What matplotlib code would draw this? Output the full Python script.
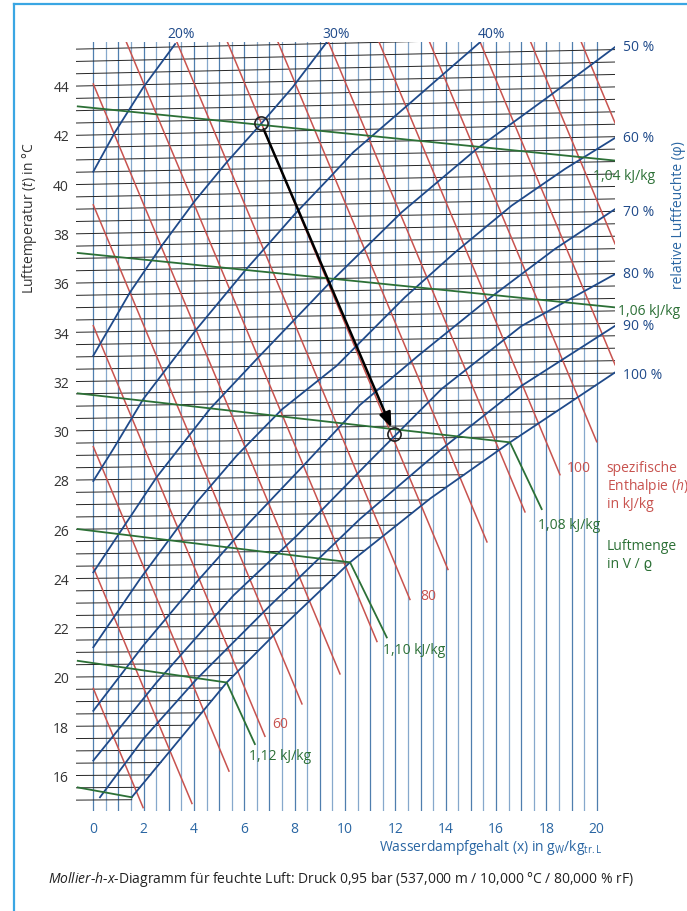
import numpy as np
import matplotlib
matplotlib.use("Agg")
import matplotlib.pyplot as plt
from matplotlib.lines import Line2D

plt.rcParams['font.family'] = ['Open Sans', 'DejaVu Sans']
plt.rcParams['mathtext.fontset'] = 'custom'
plt.rcParams['mathtext.rm'] = 'Open Sans'
plt.rcParams['mathtext.it'] = 'Open Sans:italic'

# ---------------- data (x in g/kg, t in degC on the diagram scale) ----------------
x_ticks = [0, 2, 4, 6, 8, 10, 12, 14, 16, 18, 20]
t_ticks = [16, 18, 20, 22, 24, 26, 28, 30, 32, 34, 36, 38, 40, 42, 44]
x_grid = np.arange(0, 20.01, 0.5)          # vertical lines of water content
isotherm_t = np.arange(15.0, 46.01, 0.5)    # isotherms every 0.5 degC
isotherm_skew = 0.0005                      # rise of an isotherm per g/kg and degC

# relative humidity curves
phi20_x = [0, 0.86, 1.99, 3.25]
phi20_t = [40.51, 42.11, 43.94, 45.69]
phi30_x = [0, 1.458, 2.718, 4.04, 5.30, 6.62, 7.93, 9.27]
phi30_t = [33.04, 35.61, 37.50, 39.33, 40.89, 42.40, 43.95, 45.76]
phi40_x = [0, 0.795, 1.987, 4.107, 6.026, 8.01, 9.40, 10.33, 12.31, 15.36]
phi40_t = [27.95, 29.25, 31.28, 34.12, 36.49, 38.79, 40.28, 41.30, 43.05, 45.76]
phi50_x = [0, 2.519, 4.637, 6.556, 9.404, 12.25, 15.23, 18.145, 20.73]
phi50_t = [24.24, 28.11, 30.88, 32.97, 36.01, 38.86, 41.43, 43.60, 45.57]
phi60_x = [0, 1.855, 4.108, 5.697, 7.485, 9.670, 12.38, 14.37, 16.62, 18.74, 20.73]
phi60_t = [21.20, 23.97, 27.09, 28.98, 30.85, 32.63, 35.41, 37.23, 39.13, 40.62, 41.88]
phi70_x = [0, 1.987, 4.108, 6.226, 8.344, 10.596, 12.91, 15.70, 18.34, 20.73]
phi70_t = [18.62, 21.27, 23.85, 26.29, 28.57, 31.04, 33.04, 35.34, 37.37, 38.99]
phi80_x = [0, 2.519, 5.563, 8.082, 11.06, 13.84, 17.02, 20.73]
phi80_t = [16.60, 19.78, 23.30, 25.73, 28.84, 31.69, 34.25, 36.35]
phi90_x = [0.266, 1.987, 4.108, 7.020, 10.596, 13.84, 17.02, 20.73]
phi90_t = [15.11, 17.48, 19.91, 22.89, 26.41, 29.25, 31.82, 34.25]
phi100_x = [1.526, 5.30, 7.286, 10.20, 13.40, 16.555, 20.73]
phi100_t = [15.11, 19.77, 21.81, 24.65, 27.25, 29.52, 32.36]

# specific enthalpy lines (kJ/kg) and where they end at the bottom (g/kg)
enthalpy_h = [45, 50, 55, 60, 65, 70, 75, 80, 85, 90, 95, 100, 105, 110, 115, 120]
enthalpy_end_x = [1.98, 3.92, 5.39, 6.82, 8.29, 9.80, 11.27, 12.58, 14.09,
                  15.64, 17.15, 18.54, 20.0, 20.73, 20.73, 20.73]
enthalpy_t0_at_45 = 19.53     # diagram value at x = 0 for h = 45 kJ/kg
enthalpy_t_per_kj = 0.9816    # diagram degC per kJ/kg
enthalpy_slope = 2.444        # diagram degC per g/kg along an enthalpy line

# air volume lines (green)
vol_labels = ['1,04 kJ/kg', '1,06 kJ/kg', '1,08 kJ/kg', '1,10 kJ/kg', '1,12 kJ/kg', '']
vol_start_t = [43.16, 37.21, 31.51, 26.00, 20.65, 15.51]
vol_corner_x = [20.73, 20.73, 16.555, 10.20, 5.30, 1.526]
vol_corner_t = [40.96, 35.00, 29.52, 24.65, 19.77, 15.11]
vol_tail_x = [None, None, 17.815, 11.66, 6.42, None]
vol_tail_t = [None, None, 26.81, 21.60, 17.27, None]

# process (state 1 -> state 2)
state_x = [6.66, 11.95]
state_t = [42.49, 29.86]

# ---------------- drawing ----------------
W, H = 687, 912
fig = plt.figure(figsize=(W / 100, H / 100), dpi=100)
fig.patch.set_facecolor('white')

x_left, x_right = -0.687, 20.727
t_bottom, t_top = 14.553, 45.774
ax = fig.add_axes([76 / W, 100 / H, (615 - 76) / W, (812 - 43) / H])
ax.set_xlim(x_left, x_right)
ax.set_ylim(t_bottom, t_top)
for s in ax.spines.values():
    s.set_visible(False)

C_VERT = '#4f7eae'
C_VERT2 = '#86a8cc'
C_ISO = '#262626'
C_PHI = '#1f4a8a'
C_RED = '#c8534f'
C_GREEN = '#2c7036'
C_BLUE_TXT = '#2a66a3'

# vertical grid
for i, xv in enumerate(x_grid):
    ax.plot([xv, xv], [t_bottom, t_top], color=C_VERT if i % 2 == 0 else C_VERT2,
            lw=0.9, zorder=1)

for t in isotherm_t:
    xx = np.linspace(x_left, x_right, 800)
    yy = t * (1 + isotherm_skew * xx)
    ysat = np.interp(xx, phi100_x, phi100_t)
    ok = (xx < phi100_x[0]) | (yy >= ysat)
    if not ok.all():
        idx = np.argmax(~ok & (xx >= phi100_x[0]))
        xend = xx[idx]
    else:
        xend = x_right
    if t * (1 + isotherm_skew * phi100_x[0]) < phi100_t[0]:
        xend = phi100_x[0]
    x2 = np.linspace(x_left, xend, 50)
    ax.plot(x2, t * (1 + isotherm_skew * x2), color=C_ISO, lw=0.7, zorder=2)

# enthalpy lines
for h, xe in zip(enthalpy_h, enthalpy_end_x):
    t0 = enthalpy_t0_at_45 + (h - 45) * enthalpy_t_per_kj
    xs = max(0.0, (t0 - t_top) / enthalpy_slope)
    ax.plot([xs, xe], [t0 - enthalpy_slope * xs, t0 - enthalpy_slope * xe],
            color=C_RED, lw=1.1, zorder=3)

# relative humidity curves
for px_, pt_ in [(phi20_x, phi20_t), (phi30_x, phi30_t), (phi40_x, phi40_t),
                 (phi50_x, phi50_t), (phi60_x, phi60_t), (phi70_x, phi70_t),
                 (phi80_x, phi80_t), (phi90_x, phi90_t), (phi100_x, phi100_t)]:
    ax.plot(px_, pt_, color=C_PHI, lw=1.3, zorder=4)

# air volume lines
for t0, xc, tc, xt, tt in zip(vol_start_t, vol_corner_x, vol_corner_t, vol_tail_x, vol_tail_t):
    xs = [x_left + 0.07, xc]
    ys = [t0, tc]
    if xt is not None:
        xs.append(xt)
        ys.append(tt)
    ax.plot(xs, ys, color=C_GREEN, lw=1.3, zorder=5)

# process arrow
ax.annotate('', xy=(state_x[1], state_t[1]), xytext=(state_x[0], state_t[0]),
            arrowprops=dict(arrowstyle='-|>,head_length=0.9,head_width=0.35',
                            color='black', lw=1.8, shrinkA=5, shrinkB=5),
            zorder=7)
ax.plot(state_x, state_t, 'o', mfc='none', mec='#222222', ms=9.5, mew=1.2, zorder=8)

# ticks
ax.set_xticks(x_ticks)
ax.set_xticklabels([str(v) for v in x_ticks], color=C_BLUE_TXT, fontsize=10)
ax.set_yticks(t_ticks)
ax.set_yticklabels([str(v) for v in t_ticks], color='#333333', fontsize=10)
ax.tick_params(axis='x', length=0, pad=7)
ax.tick_params(axis='y', length=0, pad=5)


def fx(p):
    return p / W


def fy(p):
    return 1 - p / H


# labels
fig.text(fx(30), fy(218), 'Lufttemperatur ($\\it{t}$) in °C', rotation=90,
         ha='center', va='center', fontsize=10, color='#333333')
fig.text(fx(679), fy(215), 'relative Luftfeuchte (φ)', rotation=90,
         ha='center', va='center', fontsize=10, color=C_BLUE_TXT)
fig.text(fx(491), fy(848), 'Wasserdampfgehalt (x) in g$_{\\mathrm{W}}$/kg$_{\\mathrm{tr.L}}$',
         ha='center', va='center', fontsize=10, color=C_BLUE_TXT)
fig.text(fx(48), fy(880), '$\\it{Mollier}$-$\\it{h}$-$\\it{x}$-Diagramm für feuchte Luft: '
         'Druck 0,95 bar (537,000 m / 10,000 °C / 80,000 % rF)',
         ha='left', va='center', fontsize=10, color='#222222')

for lab, cx in zip(['20%', '30%', '40%'], [181, 336, 491]):
    fig.text(fx(cx), fy(35), lab, ha='center', va='center', fontsize=10, color=C_PHI)
for lab, cy in zip(['50 %', '60 %', '70 %', '80 %', '90 %', '100 %'],
                   [47.7, 138, 213, 274, 326.7, 376]):
    fig.text(fx(622.7), fy(cy), lab, ha='left', va='center', fontsize=10, color=C_PHI)

for lab, (lx, ly) in zip(vol_labels[:5], [(593, 176.7), (618, 311.7), (538, 526),
                                           (383, 650.7), (249, 756.7)]):
    fig.text(fx(lx), fy(ly), lab, ha='left', va='center', fontsize=10, color=C_GREEN)

for lab, (lx, ly) in zip(['60', '80', '100'], [(280, 724), (428, 597), (579, 468)]):
    fig.text(fx(lx), fy(ly), lab, ha='center', va='center', fontsize=10, color=C_RED)
for lab, ly in zip(['spezifische', 'Enthalpie ($\\it{h}$)', 'in kJ/kg'], [468, 486.5, 505]):
    fig.text(fx(606.7), fy(ly), lab, ha='left', va='center', fontsize=10, color=C_RED)
for lab, ly in zip(['Luftmenge', 'in V / ϱ'], [547, 565]):
    fig.text(fx(606.7), fy(ly), lab, ha='left', va='center', fontsize=10, color=C_GREEN)

# frame
fig.add_artist(Line2D([fx(14), fx(14)], [fy(5), 0], color='#3aa6e3', lw=1.6))
fig.add_artist(Line2D([fx(14), 1], [fy(5), fy(5)], color='#3aa6e3', lw=1.6))

fig.savefig('out.png', dpi=100, facecolor='white')
